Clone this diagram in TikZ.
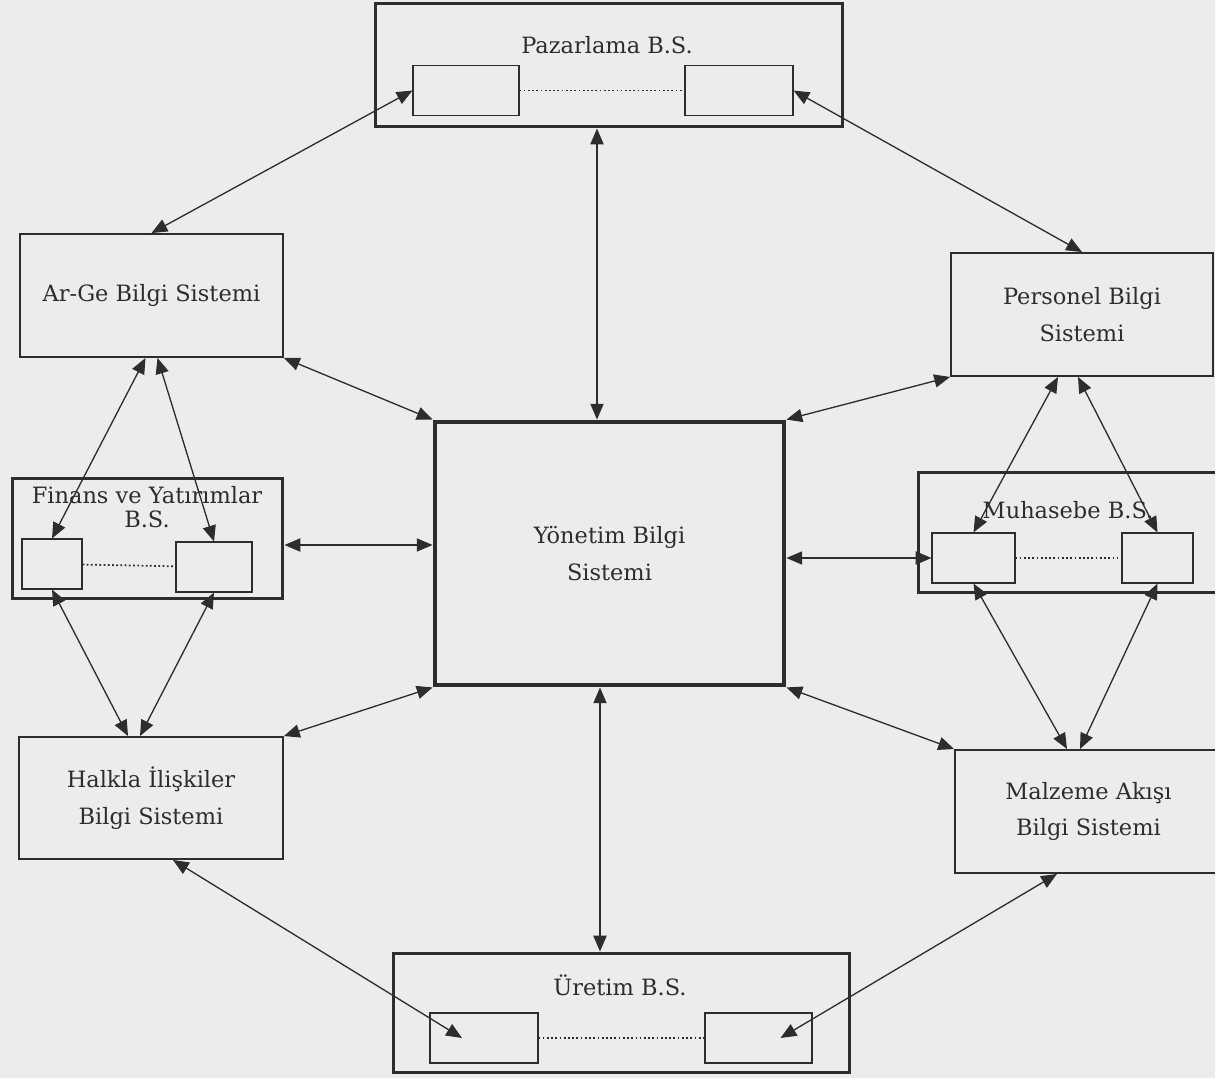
\documentclass[tikz,border=0pt]{standalone}
\usepackage{fontspec}
\setmainfont{DejaVu Serif}
\usetikzlibrary{arrows.meta}
\definecolor{paper}{RGB}{236,236,236}
\definecolor{ink}{RGB}{45,45,45}

\begin{document}
\begin{tikzpicture}[x=0.02cm,y=-0.02cm,
  box/.style={draw=ink,line width=1.1pt,inner sep=0pt,text=ink,align=center,
    font=\fontsize{12.8}{21}\selectfont},
  subbox/.style={box,line width=1.7pt},
  mainbox/.style={box,line width=2.8pt},
  cell/.style={draw=ink,line width=0.6pt,minimum width=#1,minimum height=1cm},
  title/.style={text=ink,align=center,font=\fontsize{12.8}{21}\selectfont},
  link/.style={draw=ink,line width=0.75pt,
    {Triangle[length=9pt,width=7.5pt]}-{Triangle[length=9pt,width=7.5pt]}},
  chain/.style={draw=ink,line width=1pt,dash pattern=on 1pt off 1.4pt}]

\fill[paper] (0,0) rectangle (1215,1078);
\useasboundingbox (0,0) rectangle (1215,1078);
\clip (0,0) rectangle (1215,1078);

% centre
\node[mainbox,minimum width=6.98cm,minimum height=5.26cm] (yon) at (609.5,553.5) {Yönetim Bilgi\\Sistemi};

% Pazarlama B.S.
\node[subbox,minimum width=9.36cm,minimum height=2.48cm] (paz) at (609,65) {};
\node[title] (pazt) at (607,45) {Pazarlama B.S.};
\node[cell=2.12cm] (pazl) at (466,90.5) {};
\node[cell=2.16cm] (pazr) at (739,90.5) {};
\draw[chain] (pazl) -- (pazr);

% left column
\node[box,minimum width=5.26cm,minimum height=2.46cm] (arge) at (151.5,295.5) {Ar-Ge Bilgi Sistemi};
\node[subbox,minimum width=5.42cm,minimum height=2.42cm] (fin) at (147.5,538.5) {};
\node[title,font=\fontsize{12.8}{13.5}\selectfont] (fint) at (147,507) {Finans ve Yatırımlar\\B.S.};
\node[cell=1.2cm] (finl) at (52,564) {};
\node[cell=1.52cm] (finr) at (214,567) {};
\draw[chain] (finl) -- (finr);
\node[box,minimum width=5.28cm,minimum height=2.44cm] (hal) at (151,798) {Halkla İlişkiler\\Bilgi Sistemi};

% right column
\node[box,minimum width=5.24cm,minimum height=2.46cm] (per) at (1082,314.5) {Personel Bilgi\\Sistemi};
\node[subbox,minimum width=6.24cm,minimum height=2.42cm] (muh) at (1074,532.5) {};
\node[title] (muht) at (1068,510) {Muhasebe B.S.};
\node[cell=1.66cm] (muhl) at (973.5,558) {};
\node[cell=1.42cm] (muhr) at (1157.5,558) {};
\draw[chain] (muhl) -- (muhr);
\node[box,minimum width=5.34cm,minimum height=2.46cm] (mal) at (1088.5,811.5) {Malzeme Akışı\\Bilgi Sistemi};

% Üretim B.S.
\node[subbox,minimum width=9.14cm,minimum height=2.4cm] (ure) at (621.5,1013) {};
\node[title] (uret) at (620,985) {Üretim B.S.};
\node[cell=2.16cm] (urel) at (484,1038) {};
\node[cell=2.14cm] (urer) at (758.5,1038) {};
\draw[chain] (urel) -- (urer);

% links to the centre
\coordinate (yup) at ([xshift=-0.25cm]yon.north);
\draw[link] (yup |- paz.south) -- (yup);
\coordinate (ydown) at ([xshift=-0.19cm]yon.south);
\draw[link] (ydown) -- (ydown |- ure.north);
\coordinate (yleft) at ([yshift=0.17cm]yon.west);
\draw[link] (yleft) -- (yleft -| fin.east);
\draw[link] (muhl.west) -- (muhl.west -| yon.east);
\draw[link] (arge.south east) -- (yon.north west);
\draw[link] (yon.north east) -- (per.south west);
\draw[link] (yon.south west) -- (hal.north east);
\draw[link] (yon.south east) -- (mal.north west);

% outer ring
\draw[link] (arge.north) -- (pazl.west);
\draw[link] (pazr.east) -- (per.north);
\draw[link] ([xshift=-0.12cm]arge.south) -- (finl.north);
\draw[link] ([xshift=0.12cm]arge.south) -- (finr.north);
\draw[link] (finl.south) -- ([xshift=-0.46cm]hal.north);
\draw[link] (finr.south) -- ([xshift=-0.22cm]hal.north);
\draw[link] ([xshift=-0.48cm]per.south) -- (muhl.north);
\draw[link] ([xshift=-0.08cm]per.south) -- (muhr.north);
\draw[link] (muhl.south) -- ([xshift=-0.43cm]mal.north);
\draw[link] (muhr.south) -- ([xshift=-0.17cm]mal.north);
\draw[link] ([xshift=0.44cm]hal.south) -- ([xshift=-0.44cm]urel.center);
\draw[link] ([xshift=-0.63cm]mal.south) -- ([xshift=0.44cm]urer.center);
\end{tikzpicture}
\end{document}
